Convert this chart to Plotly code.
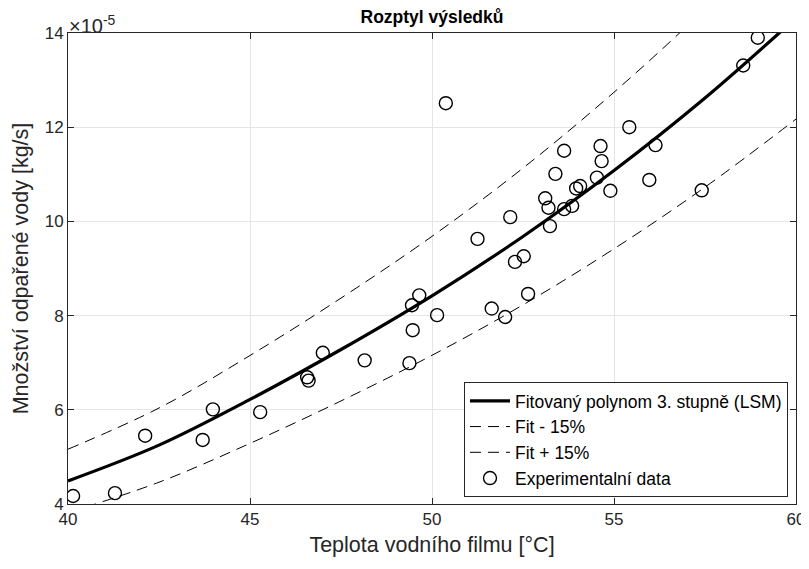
import plotly.graph_objects as go

# Experimental data (temperature [°C], evaporated water [x1e-5 kg/s])
temp = [40.14, 41.29, 42.12, 43.70, 43.98, 45.28, 46.57, 46.61, 47.00, 48.15,
        49.38, 49.47, 49.45, 49.65, 50.14, 50.38, 51.25, 51.64, 52.01, 52.15,
        52.28, 52.52, 52.64, 53.11, 53.20, 53.24, 53.39, 53.63, 53.63, 53.85,
        53.96, 54.07, 54.53, 54.63, 54.66, 54.90, 55.42, 55.97, 56.14, 57.41,
        58.55, 58.95]
water = [4.17, 4.23, 5.45, 5.36, 6.01, 5.95, 6.69, 6.62, 7.21, 7.05,
         6.99, 7.69, 8.22, 8.43, 8.01, 12.51, 9.63, 8.15, 7.97, 10.09,
         9.14, 9.26, 8.46, 10.49, 10.29, 9.90, 11.01, 11.50, 10.26, 10.33,
         10.70, 10.75, 10.93, 11.60, 11.28, 10.65, 12.00, 10.88, 11.62, 10.66,
         13.31, 13.90]

# Fitted 3rd degree polynomial
fit_x = [40, 42.5, 45, 47.5, 50, 52.5, 55, 57.5, 60]
fit_y = [4.49, 5.25, 6.22, 7.28, 8.42, 9.68, 11.08, 12.62, 14.32]
band = 0.15
fit_lo = [v * (1 - band) for v in fit_y]
fit_hi = [v * (1 + band) for v in fit_y]

x_ticks = [40, 45, 50, 55, 60]
y_ticks = [4, 6, 8, 10, 12, 14]

FONT = "Liberation Sans, Arial, Helvetica, sans-serif"
AX = "#262626"

fig = go.Figure()
fig.add_trace(go.Scatter(x=fit_x, y=fit_y, mode="lines", line=dict(color="black", width=3.2, shape="spline"),
                         name="Fitovaný polynom 3. stupně (LSM)"))
fig.add_trace(go.Scatter(x=fit_x, y=fit_lo, mode="lines",
                         line=dict(color="black", width=1, dash="11px,7px", shape="spline"),
                         name="Fit - 15%"))
fig.add_trace(go.Scatter(x=fit_x, y=fit_hi, mode="lines",
                         line=dict(color="black", width=1, dash="11px,7px", shape="spline"),
                         name="Fit + 15%"))
fig.add_trace(go.Scatter(x=temp, y=water, mode="markers",
                         marker=dict(symbol="circle-open", size=13, color="black", line=dict(width=1.4)),
                         name="Experimentalní data"))

axis_common = dict(showline=True, linecolor=AX, linewidth=1, mirror="ticks", ticks="inside",
                   ticklen=6, tickcolor=AX, showgrid=True, gridcolor="#e5e5e5", gridwidth=1,
                   zeroline=False, automargin=False, tickfont=dict(family=FONT, size=17, color=AX))

fig.update_xaxes(range=[40, 60], tickvals=x_ticks, ticktext=[str(t) for t in x_ticks],
                 title=dict(text="Teplota vodního filmu [°C]", font=dict(family=FONT, size=21.5, color=AX), standoff=8),
                 **axis_common)
fig.update_yaxes(range=[4, 14], tickvals=y_ticks, ticktext=[str(t) for t in y_ticks],
                 title=dict(text="Množství odpařené vody [kg/s]", font=dict(family=FONT, size=21.5, color=AX), standoff=10),
                 **axis_common)

# page has an 8px default body margin, so the figure is sized to fit inside the window
fig.update_layout(
    width=801, height=561,
    margin=dict(l=60, r=13, t=25, b=65, autoexpand=False),
    plot_bgcolor="white", paper_bgcolor="white",
    title=dict(text="<b>Rozptyl výsledků</b>", xref="paper", x=0.5, xanchor="center", y=0.984, yanchor="middle",
               font=dict(family=FONT, size=17.5, color="black"), automargin=False),
    legend=dict(x=0.989, xanchor="right", y=0.015, yanchor="bottom", bgcolor="white",
                bordercolor=AX, borderwidth=1, font=dict(family=FONT, size=17.5, color="black"),
                tracegroupgap=0, itemwidth=40),
    showlegend=True,
)
fig.add_annotation(text="×10<sup>-5</sup>", xref="paper", yref="paper", x=0, y=1.0, xanchor="left",
                   yanchor="bottom", showarrow=False, font=dict(family=FONT, size=20, color=AX), xshift=-1, yshift=-6)

fig.write_html("out.html")
